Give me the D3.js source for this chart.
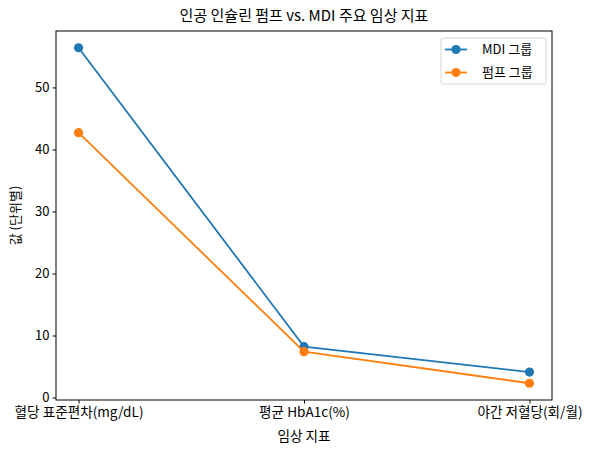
<!DOCTYPE html>
<html>
<head>
<meta charset="utf-8">
<script src="https://cdn.jsdelivr.net/npm/d3@7"></script>
<style>
body { margin: 0; background: #fff; }
text { font-family: "Noto Sans CJK KR", "Noto Sans", sans-serif; fill: #000; }
</style>
</head>
<body>
<div id="chart"></div>
<script>
// data
var categories = ["혈당 표준편차(mg/dL)", "평균 HbA1c(%)", "야간 저혈당(회/월)"];
var mdiValues = [56.4, 8.2, 4.1];
var pumpValues = [42.7, 7.4, 2.3];
var seriesNames = ["MDI 그룹", "펌프 그룹"];
var seriesColors = ["#1f77b4", "#ff7f0e"];
var yTicks = [0, 10, 20, 30, 40, 50];

var w = 592, h = 455;
var margin = {left: 56, right: 40, top: 31, bottom: 55};

var svg = d3.select("#chart").append("svg")
  .attr("width", w)
  .attr("height", h);

var x = d3.scaleLinear()
  .domain([-0.1, 2.1])
  .range([margin.left, w - margin.right]);

var y = d3.scaleLinear()
  .domain([-0.4, 59.1])
  .range([h - margin.bottom, margin.top]);

// axes
svg.append("g")
  .attr("class", "xaxis")
  .attr("transform", "translate(0," + (h - margin.bottom) + ")")
  .call(d3.axisBottom(x).tickValues([0, 1, 2]).tickFormat(function(d) { return categories[d]; }).tickSizeOuter(0).tickSize(3.5).tickPadding(4));

svg.append("g")
  .attr("class", "yaxis")
  .attr("transform", "translate(" + margin.left + ",0)")
  .call(d3.axisLeft(y).tickValues(yTicks).tickSizeOuter(0).tickSize(3.5).tickPadding(3));

svg.selectAll(".xaxis .tick text").style("font-size", "13.6px");
svg.selectAll(".yaxis .tick text").style("font-size", "13px").attr("dy", "0.3em");
svg.selectAll(".domain").remove();

// frame
svg.append("rect")
  .attr("x", margin.left)
  .attr("y", margin.top)
  .attr("width", w - margin.left - margin.right)
  .attr("height", h - margin.top - margin.bottom)
  .attr("fill", "none")
  .attr("stroke", "#000")
  .attr("stroke-width", 1);

// lines
var line = d3.line()
  .x(function(d, i) { return x(i); })
  .y(function(d) { return y(d); });

[mdiValues, pumpValues].forEach(function(vals, k) {
  svg.append("path")
    .datum(vals)
    .attr("d", line)
    .attr("fill", "none")
    .attr("stroke", seriesColors[k])
    .attr("stroke-width", 1.8);
  svg.selectAll(".pt" + k)
    .data(vals)
    .enter().append("circle")
    .attr("cx", function(d, i) { return x(i); })
    .attr("cy", function(d) { return y(d); })
    .attr("r", 4.6)
    .attr("fill", seriesColors[k]);
});

// titles
svg.append("text")
  .attr("x", (margin.left + w - margin.right) / 2)
  .attr("y", 21)
  .attr("text-anchor", "middle")
  .style("font-size", "15px")
  .text("인공 인슐린 펌프 vs. MDI 주요 임상 지표");

svg.append("text")
  .attr("x", (margin.left + w - margin.right) / 2)
  .attr("y", 441)
  .attr("text-anchor", "middle")
  .style("font-size", "13.6px")
  .text("임상 지표");

svg.append("text")
  .attr("transform", "translate(20," + ((margin.top + h - margin.bottom) / 2) + ") rotate(-90)")
  .attr("text-anchor", "middle")
  .style("font-size", "13px")
  .text("값 (단위별)");

// legend
var lg = svg.append("g").attr("transform", "translate(441,38)");
lg.append("rect")
  .attr("width", 105)
  .attr("height", 46)
  .attr("rx", 2)
  .attr("fill", "#fff")
  .attr("fill-opacity", 0.8)
  .attr("stroke", "#d6d6d6");

seriesNames.forEach(function(name, k) {
  var yy = 11.5 + k * 23;
  lg.append("line")
    .attr("x1", 4).attr("x2", 26)
    .attr("y1", yy).attr("y2", yy)
    .attr("stroke", seriesColors[k])
    .attr("stroke-width", 1.8);
  lg.append("circle")
    .attr("cx", 15).attr("cy", yy).attr("r", 4.6)
    .attr("fill", seriesColors[k]);
  lg.append("text")
    .attr("x", 41).attr("y", yy + 4.5)
    .style("font-size", "13px")
    .text(name);
});
</script>
</body>
</html>
